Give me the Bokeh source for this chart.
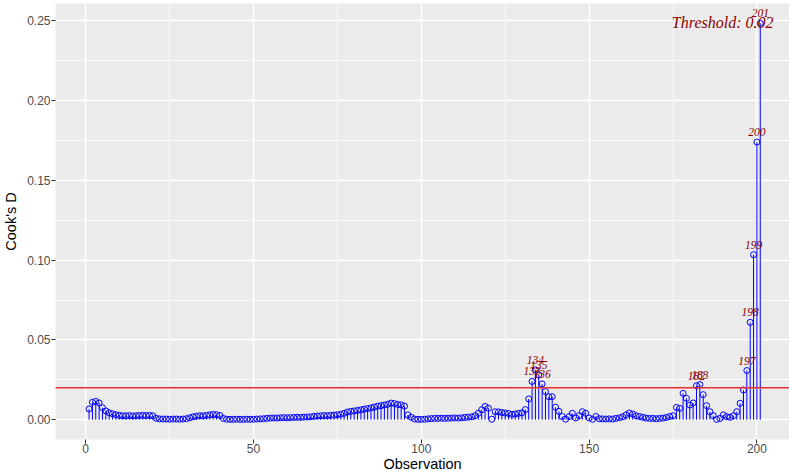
from bokeh.plotting import figure
from bokeh.models import Range1d, FixedTicker, PrintfTickFormatter, Span, Label, ColumnDataSource
from bokeh.embed import file_html
from bokeh.resources import INLINE
from bokeh.core.properties import value

# ---- data ----
cooks_d = [
    0.0067, 0.0109, 0.0115, 0.0105, 0.0075, 0.0055, 0.0043, 0.0037, 0.0031, 0.0027,
    0.0025, 0.0024, 0.0026, 0.0023, 0.0025, 0.0026, 0.0027, 0.0026, 0.0027, 0.0024,
    0.0009, 0.0005, 0.0004, 0.0004, 0.0003, 0.0004, 0.0004, 0.0003, 0.0004, 0.0006,
    0.0012, 0.0018, 0.0022, 0.0025, 0.0024, 0.0027, 0.0030, 0.0033, 0.0031, 0.0026,
    0.0008, 0.0003, 0.0002, 0.0002, 0.0003, 0.0002, 0.0002, 0.0003, 0.0002, 0.0003,
    0.0004, 0.0005, 0.0006, 0.0008, 0.0010, 0.0011, 0.0010, 0.0012, 0.0013, 0.0012,
    0.0013, 0.0014, 0.0015, 0.0014, 0.0016, 0.0017, 0.0018, 0.0021, 0.0023, 0.0024,
    0.0026, 0.0025, 0.0027, 0.0029, 0.0031, 0.0034, 0.0040, 0.0048, 0.0052, 0.0055,
    0.0058, 0.0062, 0.0066, 0.0070, 0.0074, 0.0079, 0.0085, 0.0088, 0.0092, 0.0097,
    0.0104, 0.0101, 0.0095, 0.0093, 0.0085, 0.0030, 0.0015, 0.0004, 0.0002, 0.0002,
    0.0003, 0.0005, 0.0007, 0.0008, 0.0008, 0.0009, 0.0008, 0.0009, 0.0010, 0.0011,
    0.0010, 0.0012, 0.0014, 0.0016, 0.0018, 0.0025, 0.0040, 0.0062, 0.0083, 0.0072,
    0.0003, 0.0050, 0.0049, 0.0045, 0.0042, 0.0039, 0.0033, 0.0036, 0.0040, 0.0043,
    0.0063, 0.0130, 0.0240, 0.0312, 0.0280, 0.0224, 0.0176, 0.0144, 0.0144, 0.0078,
    0.0052, 0.0020, 0.0003, 0.0019, 0.0040, 0.0011, 0.0025, 0.0050, 0.0040, 0.0011,
    0.0002, 0.0020, 0.0006, 0.0005, 0.0004, 0.0005, 0.0004, 0.0008, 0.0012, 0.0018,
    0.0030, 0.0042, 0.0035, 0.0025, 0.0020, 0.0015, 0.0010, 0.0008, 0.0008, 0.0006,
    0.0008, 0.0010, 0.0014, 0.0020, 0.0025, 0.0077, 0.0071, 0.0165, 0.0134, 0.0092,
    0.0105, 0.0213, 0.0220, 0.0157, 0.0088, 0.0050, 0.0025, 0.0002, 0.0008, 0.0030,
    0.0019, 0.0015, 0.0025, 0.0050, 0.0103, 0.0186, 0.0308, 0.0610, 0.1034, 0.1740,
    0.2484,
]
observation = list(range(1, len(cooks_d) + 1))
threshold = 0.02
x_ticks = [0, 50, 100, 150, 200]
x_minor = [25, 75, 125, 175]
y_ticks = [0.0, 0.05, 0.10, 0.15, 0.20, 0.25]
y_minor = [0.025, 0.075, 0.125, 0.175, 0.225]

out_obs = [o for o, d in zip(observation, cooks_d) if d > threshold]
out_cd = [d for d in cooks_d if d > threshold]
out_txt = [str(o) for o in out_obs]

# ---- ranges (ggplot-like 5% expansion; right side cropped like the reference) ----
n = len(cooks_d)
xpad = (n - 1) * 0.05
x_lo = 1 - xpad
ymax = max(cooks_d)
ypad = ymax * 0.05

W, H = 789, 475
left_b, top_b, bot_b = 55, 3, 36
frame_w = W - left_b
px_per_x = 3.356
x_hi = x_lo + frame_w / px_per_x

p = figure(width=W, height=H, output_backend="svg", toolbar_location=None,
           x_range=Range1d(x_lo, x_hi), y_range=Range1d(-ypad, ymax + ypad),
           min_border_left=left_b, min_border_right=0, min_border_top=top_b,
           min_border_bottom=bot_b)
p.background_fill_color = "#EBEBEB"
p.border_fill_color = "white"
p.outline_line_color = None

p.xaxis.ticker = FixedTicker(ticks=x_ticks, minor_ticks=x_minor)
p.yaxis.ticker = FixedTicker(ticks=y_ticks, minor_ticks=y_minor)
p.yaxis.formatter = PrintfTickFormatter(format="%.2f")

for ax in (p.xaxis, p.yaxis):
    ax.axis_line_color = None
    ax.major_tick_line_color = "#333333"
    ax.major_tick_out = 4
    ax.major_tick_in = 0
    ax.minor_tick_line_color = None
    ax.major_label_text_color = "#4D4D4D"
    ax.major_label_text_font = "Liberation Sans"
    ax.major_label_text_font_size = "12px"
    ax.axis_label_text_font = "Liberation Sans"
    ax.axis_label_text_font_size = "14.5px"
    ax.axis_label_text_font_style = "normal"
    ax.axis_label_text_color = "black"

p.yaxis.axis_label = "Cook's D"
p.yaxis.major_label_standoff = 1
p.yaxis.axis_label_standoff = 5
p.xaxis.axis_label = "Observation"
p.xaxis.major_label_standoff = 0
p.xaxis.axis_label_standoff = 0

for g in (p.xgrid, p.ygrid):
    g.grid_line_color = "white"
    g.grid_line_width = 1.6
    g.minor_grid_line_color = "white"
    g.minor_grid_line_width = 0.8

src = ColumnDataSource(dict(obs=observation, cd=cooks_d, zero=[0] * n))
p.segment(x0="obs", y0="zero", x1="obs", y1="cd", source=src, line_color="blue", line_width=1)
p.scatter(x="obs", y="cd", source=src, marker="circle", size=6, fill_color=None,
          line_color="blue", line_width=1)

p.add_layout(Span(location=threshold, dimension="width", line_color="#E83030", line_width=1.3))

lab = ColumnDataSource(dict(x=out_obs, y=out_cd, t=out_txt))
p.text(x="x", y="y", text="t", source=lab, text_align="center", text_baseline="bottom",
       y_offset=-6, text_font=value("Liberation Serif"), text_font_style="italic",
       text_font_size="11.5px", text_color="#8B0000")

p.add_layout(Label(x=x_hi, y=ymax + ypad, x_offset=-16, y_offset=-19,
                   text="Threshold: " + str(round(threshold, 2)), text_align="right",
                   text_baseline="middle", text_font="Liberation Serif",
                   text_font_style="italic", text_font_size="16px", text_color="#8B0000"))

open("out.html", "w").write(file_html(p, INLINE))
